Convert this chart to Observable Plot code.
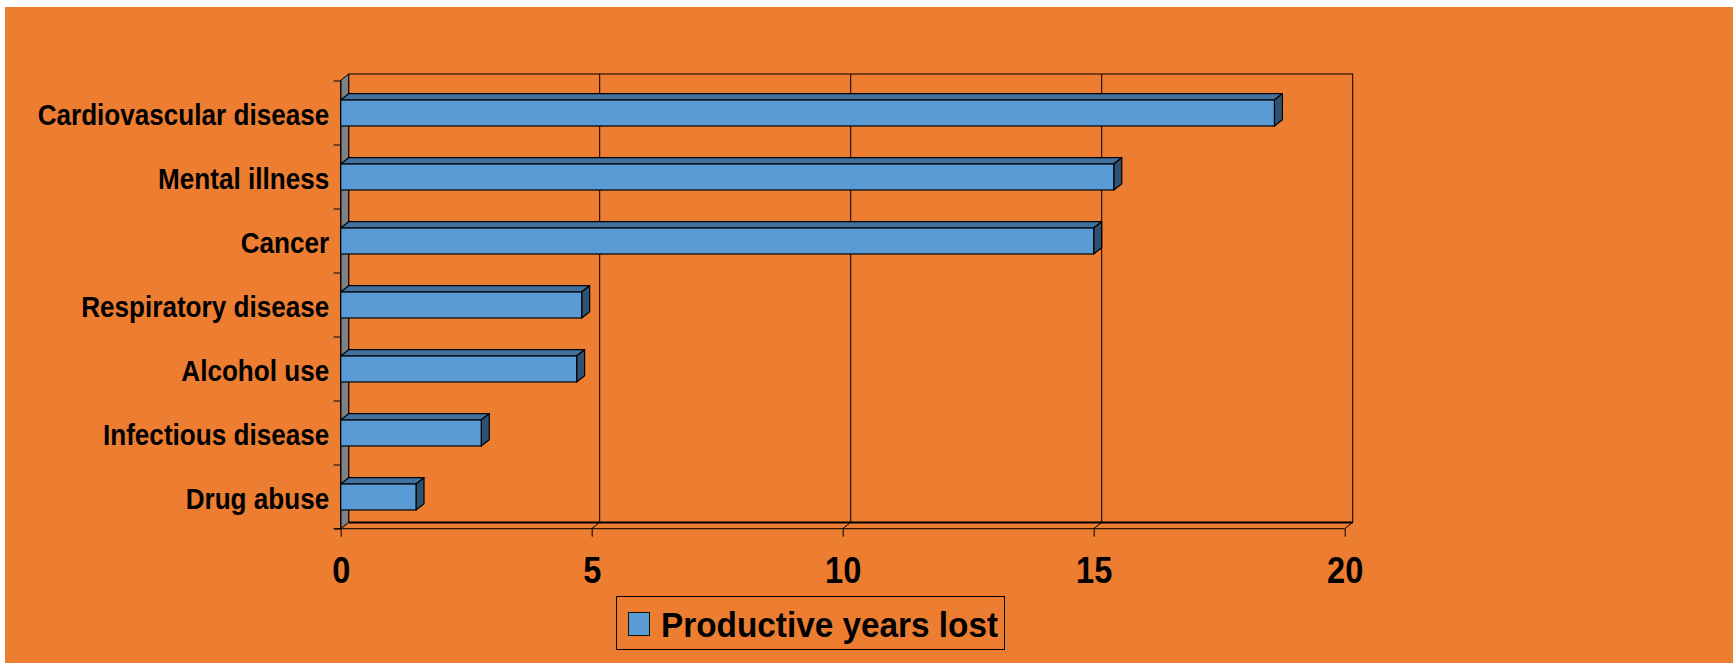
<!DOCTYPE html>
<html>
<head>
<meta charset="utf-8">
<script src="https://cdn.jsdelivr.net/npm/d3@7"></script>
<script src="https://cdn.jsdelivr.net/npm/@observablehq/plot@0.6"></script>
<style>
  html, body { margin: 0; padding: 0; background: #ffffff; }
  #chart {
    position: absolute; left: 5px; top: 7px; width: 1728px; height: 656px;
    background: #ED7D31; font-family: "Liberation Sans", Arial, Helvetica, sans-serif; overflow: hidden;
  }
  #chart svg { display: block; }
  #legend {
    position: absolute; left: 610.7px; top: 589.3px; width: 389px; height: 54px;
    box-sizing: border-box; border: 1px solid #000;
  }
  #legend .swatch {
    position: absolute; left: 11.3px; top: 15px; width: 22px; height: 24px;
    box-sizing: border-box; border: 1.5px solid #111; background: #5B9BD5;
  }
  #legend .name {
    position: absolute; left: 44.3px; top: 9.8px; font-size: 35px; line-height: 35px;
    font-weight: bold; color: #000; white-space: nowrap;
    transform: scaleX(0.952); transform-origin: 0 0;
  }
</style>
</head>
<body>
<div id="chart"></div>
<script>
// Productive years lost by cause
const causes = [
  "Cardiovascular disease",
  "Mental illness",
  "Cancer",
  "Respiratory disease",
  "Alcohol use",
  "Infectious disease",
  "Drug abuse"
];
const yearsLost = [18.6, 15.4, 15.0, 4.8, 4.7, 2.8, 1.5];
const xTicks = [0, 5, 10, 15, 20];
const seriesName = "Productive years lost";

const rows = causes.map((cause, i) => ({cause, years: yearsLost[i]}));

// pseudo-3D depth offset of the walls and bars
const DX = 8, DY = 6.3;
const frontFill = "#5B9BD5", topFill = "#41719C", sideFill = "#2F5172", wallFill = "#808080";

const W = 1728, H = 586;
const mL = 335.7, mR = W - 1339.7, mT = 73.3, mB = H - 521.7;

function bandOf(y) {
  return typeof y.bandwidth === "function" ? y.bandwidth() : 26;
}

// Back wall, left wall, floor and category tick marks
function walls(index, scales, values, dims) {
  const {x, y} = scales;
  const x0 = x(xTicks[0]), x1 = x(xTicks[xTicks.length - 1]);
  const yT = dims.marginTop, yB = dims.height - dims.marginBottom;
  const g = d3.create("svg:g").attr("fill", "none").attr("stroke", "#000");
  // back wall
  g.append("rect").attr("x", x0 + DX).attr("y", yT - DY)
    .attr("width", x1 - x0).attr("height", yB - yT).attr("stroke-width", 1);
  // gridlines on the back wall
  for (const v of xTicks.slice(1, -1)) {
    g.append("line").attr("x1", x(v) + DX).attr("x2", x(v) + DX)
      .attr("y1", yT - DY).attr("y2", yB - DY).attr("stroke-width", 1);
  }
  // floor
  g.append("line").attr("x1", x0 + DX).attr("x2", x1 + DX)
    .attr("y1", yB - DY).attr("y2", yB - DY).attr("stroke-width", 2);
  g.append("line").attr("x1", x0 - 7).attr("x2", x1)
    .attr("y1", yB).attr("y2", yB).attr("stroke-width", 1);
  for (const v of xTicks) {
    g.append("line").attr("x1", x(v)).attr("x2", x(v) + DX)
      .attr("y1", yB).attr("y2", yB - DY).attr("stroke-width", 1);
  }
  // left wall
  g.append("path")
    .attr("d", `M${x0},${yT}L${x0 + DX},${yT - DY}L${x0 + DX},${yB - DY}L${x0},${yB}Z`)
    .attr("fill", wallFill).attr("stroke-width", 1);
  // category boundary ticks
  const bw = bandOf(y);
  const step = typeof y.step === "function" ? y.step() : (yB - yT) / causes.length;
  const bounds = causes.map(c => y(c) + bw / 2 - step / 2);
  bounds.push(bounds[bounds.length - 1] + step);
  for (const b of bounds) {
    g.append("line").attr("x1", x0 - 7).attr("x2", x0)
      .attr("y1", b).attr("y2", b).attr("stroke-width", 1);
  }
  g.append("line").attr("x1", x0).attr("x2", x0)
    .attr("y1", yT).attr("y2", yB).attr("stroke-width", 1.3);
  return g.node();
}

// Top and end faces of each bar
function barFaces(index, scales) {
  const {x, y} = scales;
  const bw = bandOf(y);
  const g = d3.create("svg:g").attr("stroke", "#000").attr("stroke-width", 1.2)
    .attr("stroke-linejoin", "round");
  rows.forEach(d => {
    const xa = x(0), xb = x(d.years), top = y(d.cause), bot = top + bw;
    g.append("path")
      .attr("d", `M${xa},${top}L${xa + DX},${top - DY}L${xb + DX},${top - DY}L${xb},${top}Z`)
      .attr("fill", topFill);
    g.append("path")
      .attr("d", `M${xb},${top}L${xb + DX},${top - DY}L${xb + DX},${bot - DY}L${xb},${bot}Z`)
      .attr("fill", sideFill);
  });
  return g.node();
}

const chart = Plot.plot({
  width: W,
  height: H,
  marginLeft: mL,
  marginRight: mR,
  marginTop: mT,
  marginBottom: mB,
  style: {
    background: "transparent",
    color: "#000",
    fontFamily: '"Liberation Sans", Arial, Helvetica, sans-serif',
    fontWeight: "bold",
    overflow: "visible"
  },
  x: {domain: [xTicks[0], xTicks[xTicks.length - 1]]},
  y: {domain: causes, paddingInner: 0.6, paddingOuter: 0.3},
  marks: [
    walls,
    barFaces,
    Plot.barX(rows, {
      x: "years", y: "cause", fill: frontFill,
      stroke: "#000", strokeWidth: 1.2
    }),
    Plot.axisY({tickSize: 0, tickPadding: 12, fontSize: 29, dy: 2.7, label: null}),
    Plot.axisX({ticks: xTicks, tickSize: 8, tickPadding: 20, fontSize: 37,
                tickFormat: d => String(d), label: null})
  ]
});

// Narrow the bold lettering horizontally, keeping each label's anchor fixed
function squeeze(selector, s) {
  chart.querySelectorAll(selector).forEach(t => {
    const x0 = +(t.getAttribute("x") || 0);
    const tr = t.getAttribute("transform") || "";
    t.setAttribute("transform", `${tr} translate(${x0},0) scale(${s},1) translate(${-x0},0)`);
  });
}
squeeze('g[aria-label="y-axis tick label"] text', 0.9);
squeeze('g[aria-label="x-axis tick label"] text', 0.88);

const host = document.getElementById("chart");
host.appendChild(chart);

const legend = document.createElement("div");
legend.id = "legend";
legend.innerHTML = `<span class="swatch"></span><span class="name"></span>`;
legend.querySelector(".name").textContent = seriesName;
host.appendChild(legend);
</script>
</body>
</html>
